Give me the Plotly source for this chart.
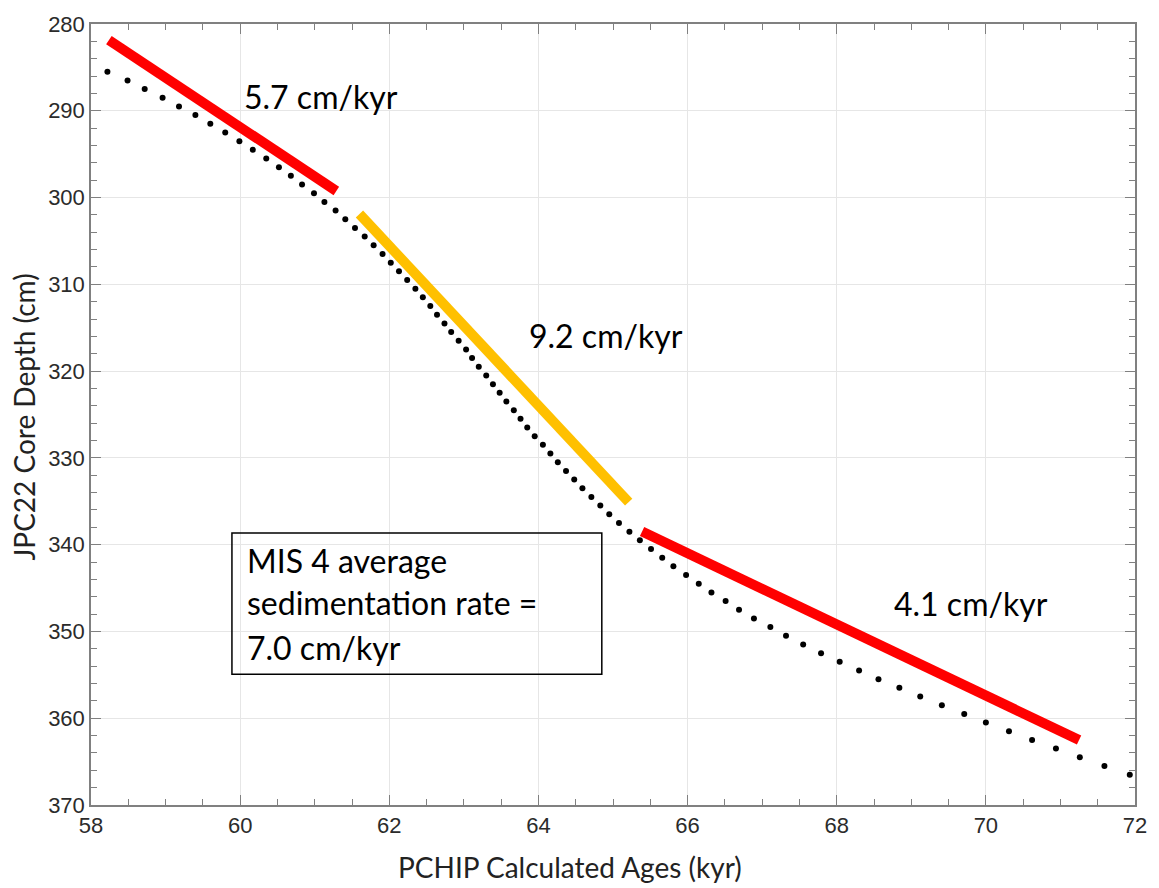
import plotly.graph_objects as go

# PCHIP age model for core JPC22, one sample per centimetre of depth
depth_cm = [
    285.5, 286.5, 287.5, 288.5, 289.5, 290.5, 291.5, 292.5, 293.5, 294.5,
    295.5, 296.5, 297.5, 298.5, 299.5, 300.5, 301.5, 302.5, 303.5, 304.5,
    305.5, 306.5, 307.5, 308.5, 309.5, 310.5, 311.5, 312.5, 313.5, 314.5,
    315.5, 316.5, 317.5, 318.5, 319.5, 320.5, 321.5, 322.5, 323.5, 324.5,
    325.5, 326.5, 327.5, 328.5, 329.5, 330.5, 331.5, 332.5, 333.5, 334.5,
    335.5, 336.5, 337.5, 338.5, 339.5, 340.5, 341.5, 342.5, 343.5, 344.5,
    345.5, 346.5, 347.5, 348.5, 349.5, 350.5, 351.5, 352.5, 353.5, 354.5,
    355.5, 356.5, 357.5, 358.5, 359.5, 360.5, 361.5, 362.5, 363.5, 364.5,
    365.5, 366.5,
]
age_kyr = [
    58.22, 58.49, 58.72, 58.96, 59.18, 59.40, 59.60, 59.80, 59.99, 60.17,
    60.35, 60.52, 60.68, 60.83, 60.99, 61.13, 61.28, 61.41, 61.54, 61.67,
    61.79, 61.91, 62.02, 62.13, 62.24, 62.35, 62.45, 62.55, 62.64, 62.74,
    62.83, 62.93, 63.03, 63.11, 63.20, 63.30, 63.39, 63.48, 63.57, 63.67,
    63.76, 63.85, 63.95, 64.06, 64.16, 64.26, 64.37, 64.48, 64.59, 64.71,
    64.83, 64.95, 65.08, 65.22, 65.36, 65.51, 65.66, 65.81, 65.98, 66.15,
    66.32, 66.51, 66.69, 66.89, 67.11, 67.32, 67.55, 67.79, 68.04, 68.30,
    68.56, 68.84, 69.12, 69.41, 69.71, 70.00, 70.31, 70.62, 70.94, 71.26,
    71.59, 71.93,
]

# Linear sedimentation-rate segments: age span, depth at mid-age, rate
seg_age_start = [58.24, 61.60, 65.39]
seg_age_end = [61.29, 65.21, 71.25]
seg_depth_mid = [290.55, 318.5, 350.5]
seg_rate = [5.7, 9.2, 4.1]          # cm/kyr
seg_color = ["#FF0000", "#FFC000", "#FF0000"]

x_ticks = [58, 60, 62, 64, 66, 68, 70, 72]
y_ticks = [280, 290, 300, 310, 320, 330, 340, 350, 360, 370]

fig = go.Figure()

# age model as a dotted series
fig.add_trace(go.Scatter(
    x=age_kyr, y=depth_cm, mode="markers",
    marker=dict(size=6, color="black"),
    hoverinfo="skip", showlegend=False,
))

# rate segments
for a0, a1, dm, r, c in zip(seg_age_start, seg_age_end, seg_depth_mid, seg_rate, seg_color):
    am = (a0 + a1) / 2
    fig.add_trace(go.Scatter(
        x=[a0, a1], y=[dm + r * (a0 - am), dm + r * (a1 - am)],
        mode="lines", line=dict(color=c, width=10),
        hoverinfo="skip", showlegend=False,
    ))

label_font = dict(family="Lato", size=32, color="black")
tick_font = dict(family="Liberation Sans, Arial, sans-serif", size=22, color="#2b2b2b")
title_font = dict(family="Lato", size=28, color="#222222")
axis_col = "#808080"

annotations = [
    dict(x=61.08, y=288.3, text=f"{seg_rate[0]:.1f} cm/kyr"),
    dict(x=64.91, y=315.95, text=f"{seg_rate[1]:.1f} cm/kyr"),
    dict(x=69.80, y=346.8, text=f"{seg_rate[2]:.1f} cm/kyr"),
]
for a in annotations:
    a.update(xref="x", yref="y", showarrow=False, font=label_font,
             xanchor="center", yanchor="middle")

box_lines = ["MIS 4 average", "sedimentation rate =", "7.0 cm/kyr"]
box_line_y = [341.87, 346.69, 351.85]
for t, yy in zip(box_lines, box_line_y):
    annotations.append(dict(x=60.06, y=yy, xref="x", yref="y", text=t,
                            showarrow=False, font=label_font,
                            xanchor="left", yanchor="middle"))

annotations.append(dict(x=0.4586, y=-0.079, xref="paper", yref="paper",
                        text="PCHIP Calculated Ages (kyr)", showarrow=False,
                        font=title_font, xanchor="center", yanchor="middle"))
annotations.append(dict(x=-0.0637, y=0.4968, xref="paper", yref="paper",
                        text="JPC22 Core Depth (cm)", showarrow=False,
                        textangle=-90, font=title_font,
                        xanchor="center", yanchor="middle"))

fig.update_layout(
    width=1159, height=888,
    margin=dict(l=91, r=17, t=20, b=83),
    paper_bgcolor="white", plot_bgcolor="white",
    annotations=annotations,
    shapes=[dict(type="rect", xref="x", yref="y",
                 x0=59.89, x1=64.85, y0=338.66, y1=354.94,
                 line=dict(color="black", width=1.5), fillcolor="rgba(0,0,0,0)")],
    xaxis=dict(
        range=[58, 72], tickvals=x_ticks, ticktext=[str(v) for v in x_ticks],
        showgrid=True, gridcolor="#e6e6e6", gridwidth=1,
        showline=True, linecolor=axis_col, linewidth=1.5, mirror="allticks",
        ticks="inside", ticklen=10, tickcolor=axis_col, tickwidth=1.2,
        tickfont=tick_font, zeroline=False,
        minor=dict(dtick=0.5, tick0=58, ticks="inside", ticklen=6,
                   tickcolor=axis_col, tickwidth=1.2, showgrid=False),
    ),
    yaxis=dict(
        range=[370, 280], tickvals=y_ticks, ticktext=[str(v) for v in y_ticks],
        showgrid=True, gridcolor="#e6e6e6", gridwidth=1,
        showline=True, linecolor=axis_col, linewidth=1.5, mirror="allticks",
        ticks="inside", ticklen=10, tickcolor=axis_col, tickwidth=1.2,
        tickfont=tick_font, zeroline=False,
        minor=dict(dtick=2, tick0=280, ticks="inside", ticklen=6,
                   tickcolor=axis_col, tickwidth=1.2, showgrid=False),
    ),
)

fig.write_html("out.html")
